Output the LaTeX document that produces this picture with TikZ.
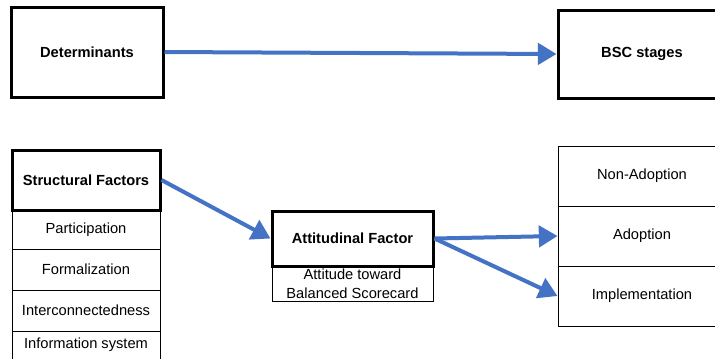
\documentclass[tikz,border=0pt]{standalone}
\usepackage{fontspec}
\setmainfont{Liberation Sans}
\usetikzlibrary{arrows.meta}

\begin{document}
\begin{tikzpicture}[x=0.75pt, y=-0.75pt,
  every node/.style={inner sep=0pt, align=center,
    font=\fontsize{11}{14.25}\selectfont},
  thickbox/.style={draw=black, line width=2.25pt, fill=white, font=\fontsize{11}{14.25}\selectfont\bfseries},
  thinbox/.style={draw=black, line width=0.75pt, fill=white},
  flow/.style={draw={rgb,255:red,68;green,114;blue,196}, line width=3pt,
    -{Triangle[length=14pt, width=16pt]}},
]
  \useasboundingbox (0,0) rectangle (715,358);
  \fill[white] (0,0) rectangle (715,358);
  \clip (0,0) rectangle (715,358);

  % top row
  \node[thickbox, minimum width=114pt, minimum height=67.5pt] (det) at (87,52) {Determinants};
  \node[thickbox, minimum width=126pt, minimum height=66pt] (bsc) at (642,54) {BSC stages};

  % structural factors column
  \node[thinbox, minimum width=111pt, minimum height=29.25pt] (part) at (86,229.5) {Participation};
  \node[thinbox, minimum width=111pt, minimum height=30.75pt] (form) at (86,269.5) {Formalization};
  \node[thinbox, minimum width=111pt, minimum height=30.75pt] (inter) at (86,310.5) {Interconnectedness};
  \node[thinbox, minimum width=111pt, minimum height=21pt] (info) at (86,345) {Information system};
  \node[thickbox, minimum width=111pt, minimum height=45pt] (struct) at (86,180) {Structural Factors};

  % attitudinal factor
  \node[thinbox, minimum width=120.75pt, minimum height=26.25pt] (att) at (352.5,283.5) {Attitude toward\\Balanced Scorecard};
  \node[thickbox, minimum width=120.75pt, minimum height=41.25pt] (attf) at (352.5,238.5) {Attitudinal Factor};

  % BSC stages column
  \node[thinbox, minimum width=126pt, minimum height=45pt] (non) at (642,176) {Non-Adoption};
  \node[thinbox, minimum width=126pt, minimum height=45pt] (adop) at (642,236) {Adoption};
  \node[thinbox, minimum width=126pt, minimum height=45pt] (impl) at (642,296) {Implementation};

  % connectors
  \draw[flow] (det.east) -- (bsc.west);
  \draw[flow] (struct.east) -- (attf.west);
  \draw[flow] (attf.east) -- (adop.west);
  \draw[flow] (attf.east) -- (impl.west);
\end{tikzpicture}
\end{document}
